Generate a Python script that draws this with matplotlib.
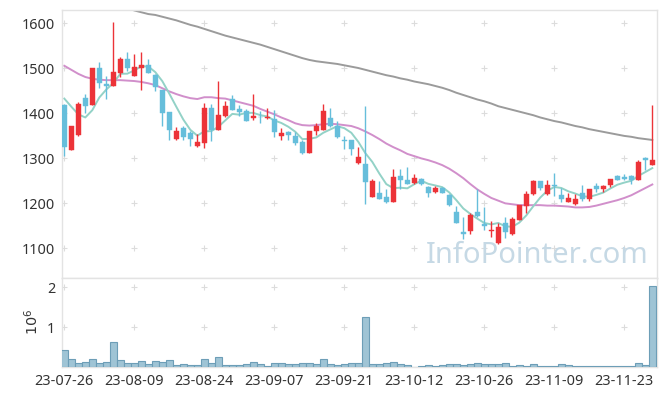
import numpy as np
import pandas as pd
import matplotlib
matplotlib.use("Agg")
import matplotlib.pyplot as plt

# ---------------- data ----------------
holidays = ["2023-08-15", "2023-09-28", "2023-09-29", "2023-10-02", "2023-10-03", "2023-10-09"]
dates = pd.bdate_range("2023-07-26", "2023-11-29", freq="C", holidays=holidays)
date_labels = [d.strftime("%y-%m-%d") for d in dates]

opens = [1418, 1319, 1353, 1434, 1419, 1500, 1465, 1461, 1490, 1521,
         1484, 1501, 1507, 1485, 1452, 1403, 1344, 1367, 1356, 1327,
         1335, 1412, 1364, 1394, 1431, 1410, 1405, 1390, 1393, 1389,
         1387, 1350, 1359, 1350, 1336, 1312, 1360, 1364, 1390, 1372,
         1342, 1341, 1290, 1287, 1215, 1223, 1214, 1203, 1261, 1253,
         1245, 1255, 1236, 1225, 1234, 1219, 1181, 1136, 1138, 1181,
         1153, 1139, 1111, 1156, 1131, 1164, 1195, 1220, 1249, 1220,
         1240, 1218, 1204, 1198, 1222, 1210, 1239, 1232, 1241, 1261,
         1259, 1261, 1252, 1300, 1286]
closes = [1326, 1372, 1421, 1417, 1500, 1467, 1461, 1492, 1521, 1501,
          1503, 1507, 1490, 1458, 1401, 1364, 1361, 1348, 1344, 1336,
          1412, 1363, 1396, 1416, 1408, 1403, 1384, 1395, 1391, 1393,
          1359, 1356, 1353, 1335, 1312, 1361, 1372, 1405, 1372, 1348,
          1339, 1321, 1304, 1247, 1250, 1210, 1203, 1259, 1252, 1243,
          1256, 1242, 1224, 1234, 1224, 1197, 1157, 1131, 1174, 1171,
          1149, 1141, 1147, 1137, 1165, 1196, 1221, 1249, 1234, 1240,
          1238, 1210, 1212, 1209, 1210, 1231, 1232, 1238, 1254, 1252,
          1255, 1252, 1292, 1297, 1296]
highs = [1420, 1372, 1425, 1444, 1501, 1514, 1484, 1604, 1525, 1537,
         1532, 1537, 1520, 1487, 1452, 1403, 1369, 1371, 1361, 1354,
         1424, 1420, 1472, 1427, 1440, 1419, 1409, 1444, 1405, 1413,
         1407, 1367, 1362, 1358, 1340, 1362, 1378, 1422, 1413, 1383,
         1350, 1341, 1325, 1416, 1254, 1250, 1232, 1276, 1276, 1281,
         1265, 1257, 1238, 1238, 1236, 1220, 1195, 1169, 1179, 1233,
         1193, 1160, 1157, 1170, 1169, 1197, 1228, 1252, 1250, 1252,
         1268, 1235, 1224, 1220, 1240, 1233, 1246, 1240, 1255, 1262,
         1265, 1262, 1296, 1302, 1418]
lows = [1306, 1319, 1350, 1400, 1418, 1456, 1433, 1460, 1480, 1494,
        1483, 1452, 1489, 1450, 1373, 1341, 1340, 1342, 1328, 1326,
        1324, 1339, 1363, 1392, 1407, 1394, 1383, 1385, 1378, 1387,
        1348, 1340, 1341, 1329, 1309, 1311, 1352, 1363, 1370, 1346,
        1320, 1307, 1288, 1199, 1214, 1209, 1200, 1202, 1232, 1242,
        1244, 1240, 1215, 1224, 1222, 1195, 1156, 1121, 1131, 1170,
        1141, 1126, 1110, 1122, 1130, 1163, 1179, 1219, 1229, 1219,
        1216, 1202, 1203, 1197, 1205, 1206, 1225, 1225, 1237, 1251,
        1252, 1243, 1251, 1274, 1285]
volumes_m = [0.425, 0.2, 0.1, 0.125, 0.2, 0.1, 0.125, 0.625, 0.175, 0.1,
             0.1, 0.15, 0.075, 0.15, 0.125, 0.175, 0.05, 0.075, 0.05, 0.05,
             0.2, 0.1, 0.25, 0.05, 0.05, 0.05, 0.075, 0.125, 0.075, 0.025,
             0.1, 0.1, 0.075, 0.075, 0.1, 0.1, 0.075, 0.2, 0.075, 0.05,
             0.075, 0.1, 0.1, 1.25, 0.075, 0.075, 0.1, 0.125, 0.075, 0.05,
             0.005, 0.025, 0.05, 0.025, 0.05, 0.075, 0.075, 0.05, 0.075, 0.1,
             0.075, 0.075, 0.075, 0.1, 0.025, 0.05, 0.025, 0.075, 0.025, 0.025,
             0.025, 0.075, 0.05, 0.025, 0.025, 0.025, 0.025, 0.025, 0.025, 0.025,
             0.025, 0.025, 0.1, 0.05, 2.03]

# 5-day MA: first four values (need earlier closes), rest from closes
ma5_head = [1433, 1415, 1398, 1391]
# 20-day MA
ma20 = [1506, 1497, 1488, 1481, 1477, 1475, 1474, 1474, 1474, 1473,
        1472, 1470, 1467, 1463, 1456, 1449, 1443, 1438, 1434, 1432,
        1436, 1436, 1434, 1433, 1429, 1425, 1421, 1417, 1410, 1404,
        1398, 1391, 1385, 1378, 1374, 1373, 1374, 1376, 1377, 1376,
        1374, 1372, 1367, 1360, 1352, 1343, 1333, 1325, 1318, 1310,
        1305, 1300, 1296, 1291, 1285, 1277, 1267, 1256, 1243, 1231,
        1221, 1212, 1206, 1200, 1198, 1196, 1196, 1196, 1196, 1195,
        1195, 1194, 1193, 1191, 1191, 1192, 1195, 1199, 1203, 1207,
        1212, 1218, 1226, 1234, 1242]
# long MA (above the visible range before index 9)
ma_long = [np.nan] * 9 + [
    1634, 1629, 1625, 1621, 1619, 1615, 1611, 1607, 1602, 1597,
    1593, 1588, 1583, 1578, 1573, 1569, 1565, 1561, 1557, 1553,
    1548, 1543, 1538, 1533, 1528, 1523, 1519, 1516, 1514, 1512,
    1510, 1507, 1504, 1501, 1497, 1493, 1489, 1485, 1482, 1478,
    1475, 1471, 1468, 1465, 1461, 1457, 1452, 1446, 1441, 1436,
    1431, 1427, 1422, 1416, 1412, 1408, 1404, 1400, 1396, 1391,
    1387, 1383, 1380, 1376, 1372, 1369, 1365, 1362, 1359, 1356,
    1353, 1350, 1348, 1345, 1343, 1341]

# ---------------- figure ----------------
plt.rcParams['font.family'] = ['Noto Sans', 'DejaVu Sans']
fig = plt.figure(figsize=(6.65, 3.96), dpi=100)
ax = fig.add_axes([62 / 665, 1 - 278 / 396, 594.5 / 665, 268 / 396])
axv = fig.add_axes([62 / 665, 1 - 367.3 / 396, 594.5 / 665, 89.3 / 396], sharex=ax)

n = len(opens)
x = np.arange(n)
o = np.array(opens, float); c = np.array(closes, float)
h = np.array(highs, float); l = np.array(lows, float)
up = c >= o
UP_C = '#ec3338'
DN_C = '#66bedb'
cols = np.where(up, UP_C, DN_C)

ma5 = pd.Series(c).rolling(5).mean().to_numpy()
ma5[:4] = ma5_head

# MA lines
ax.plot(x, ma_long, color='#9b9b9b', lw=1.4, zorder=2)
ax.plot(x, ma20, color='#d18fcb', lw=1.4, zorder=2)
ax.plot(x, ma5, color='#93d2c7', lw=1.4, zorder=2)

# candles
ax.vlines(x, l, h, colors=cols, lw=1.0, zorder=3)
bottoms = np.minimum(o, c)
heights = np.maximum(np.abs(c - o), 1.2)
ax.bar(x, heights, bottom=bottoms, width=0.68, color=cols, edgecolor=cols, lw=0.3, zorder=4)

# watermark
ax.text(0.987, 0.083, "InfoPointer.com", transform=ax.transAxes, ha='right', va='center',
        fontsize=21, color='#c6d9e5', zorder=1, family=['Noto Sans', 'DejaVu Sans'])

# volume
axv.bar(x, np.array(volumes_m) * 1e6, width=1.0, color='#9fc4d5', edgecolor='#6d9eb7', lw=0.8, zorder=3)

# axes styling
tick_pos = x[::10]
ax.set_xlim(-0.33, 84.6)
ax.set_ylim(1034, 1630)
axv.set_ylim(0, 2.23e6)
yt = [1100, 1200, 1300, 1400, 1500, 1600]
ax.set_yticks(yt)
axv.set_yticks([1e6, 2e6])
axv.set_yticklabels(['1', '2'])
axv.set_xticks(tick_pos)
axv.set_xticklabels([date_labels[i] for i in tick_pos])
plt.setp(ax.get_xticklabels(), visible=False)

for a in (ax, axv):
    for s in a.spines.values():
        s.set_color('#e3e3e3')
        s.set_linewidth(1.0)
    a.tick_params(length=0, labelsize=10.4, labelcolor='#333333', pad=5)
    a.set_axisbelow(True)

# grid crosses
gx, gy = np.meshgrid(tick_pos, yt)
ax.scatter(gx.ravel(), gy.ravel(), marker='+', s=14, color='#dcdcdc', lw=0.8, zorder=0)
gx2, gy2 = np.meshgrid(tick_pos, [1e6, 2e6])
axv.scatter(gx2.ravel(), gy2.ravel(), marker='+', s=14, color='#dcdcdc', lw=0.8, zorder=0)

fig.text(33 / 665, 1 - 322 / 396, r'$10^6$', rotation=90, ha='center', va='center',
         fontsize=10.4, color='#333333')

fig.savefig("out.png", dpi=100)
